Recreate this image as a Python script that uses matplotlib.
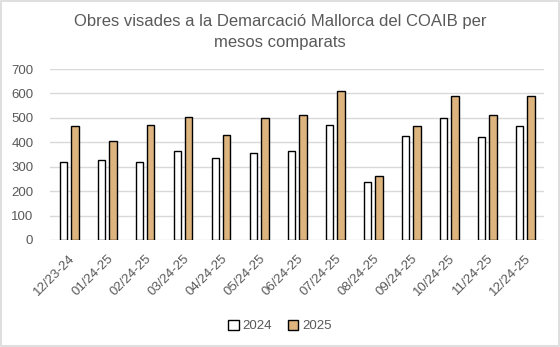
import numpy as np
import matplotlib.pyplot as plt

categories = ["12/23-24", "01/24-25", "02/24-25", "03/24-25", "04/24-25", "05/24-25",
              "06/24-25", "07/24-25", "08/24-25", "09/24-25", "10/24-25", "11/24-25", "12/24-25"]
values_2024 = [320, 326, 320, 363, 334, 355, 363, 469, 236, 426, 498, 420, 465]
values_2025 = [465, 404, 469, 502, 428, 498, 510, 609, 261, 465, 588, 510, 588]

text_color = "#595959"
grid_color = "#d9d9d9"
plt.rcParams['font.family'] = ['Liberation Sans', 'DejaVu Sans']

fig = plt.figure(figsize=(5.6, 3.47), dpi=100)
ax = fig.add_axes([50 / 560, 1 - 240 / 347, 494 / 560, 171 / 347])

x = np.arange(len(categories))
w = 0.21
ax.bar(x - 0.145, values_2024, width=w, color="white", edgecolor="black", linewidth=1.0, label="2024", zorder=3)
ax.bar(x + 0.145, values_2025, width=w, color="#deb47e", edgecolor="black", linewidth=1.0, label="2025", zorder=3)

ax.set_xlim(-0.5, len(categories) - 0.5)
ax.set_ylim(0, 700)
ax.set_yticks(range(0, 701, 100))
ax.grid(axis="y", color=grid_color, linewidth=1.0, zorder=0)
for s in ax.spines.values():
    s.set_visible(False)
ax.tick_params(axis="both", length=0, colors=text_color, labelsize=9.5)
ax.tick_params(axis="y", pad=12)
ax.tick_params(axis="x", pad=9)
ax.set_xticks(x)
ax.set_xticklabels(categories, rotation=45, ha="right", rotation_mode="anchor")

fig.suptitle("Obres visades a la Demarcació Mallorca del COAIB per\nmesos comparats",
             y=0.96, fontsize=12, color=text_color, linespacing=1.55)

fig.legend(loc="center", bbox_to_anchor=(0.5, 1 - 326 / 347), ncol=2, frameon=False,
           fontsize=9.5, labelcolor=text_color, handlelength=0.8, handleheight=0.8,
           handletextpad=0.3, columnspacing=1.2)

fig.patches.append(plt.Rectangle((0.001, 0.002), 0.997, 0.995, transform=fig.transFigure,
                                 fill=False, edgecolor=grid_color, linewidth=1.2))

fig.savefig("out.png", dpi=100)
